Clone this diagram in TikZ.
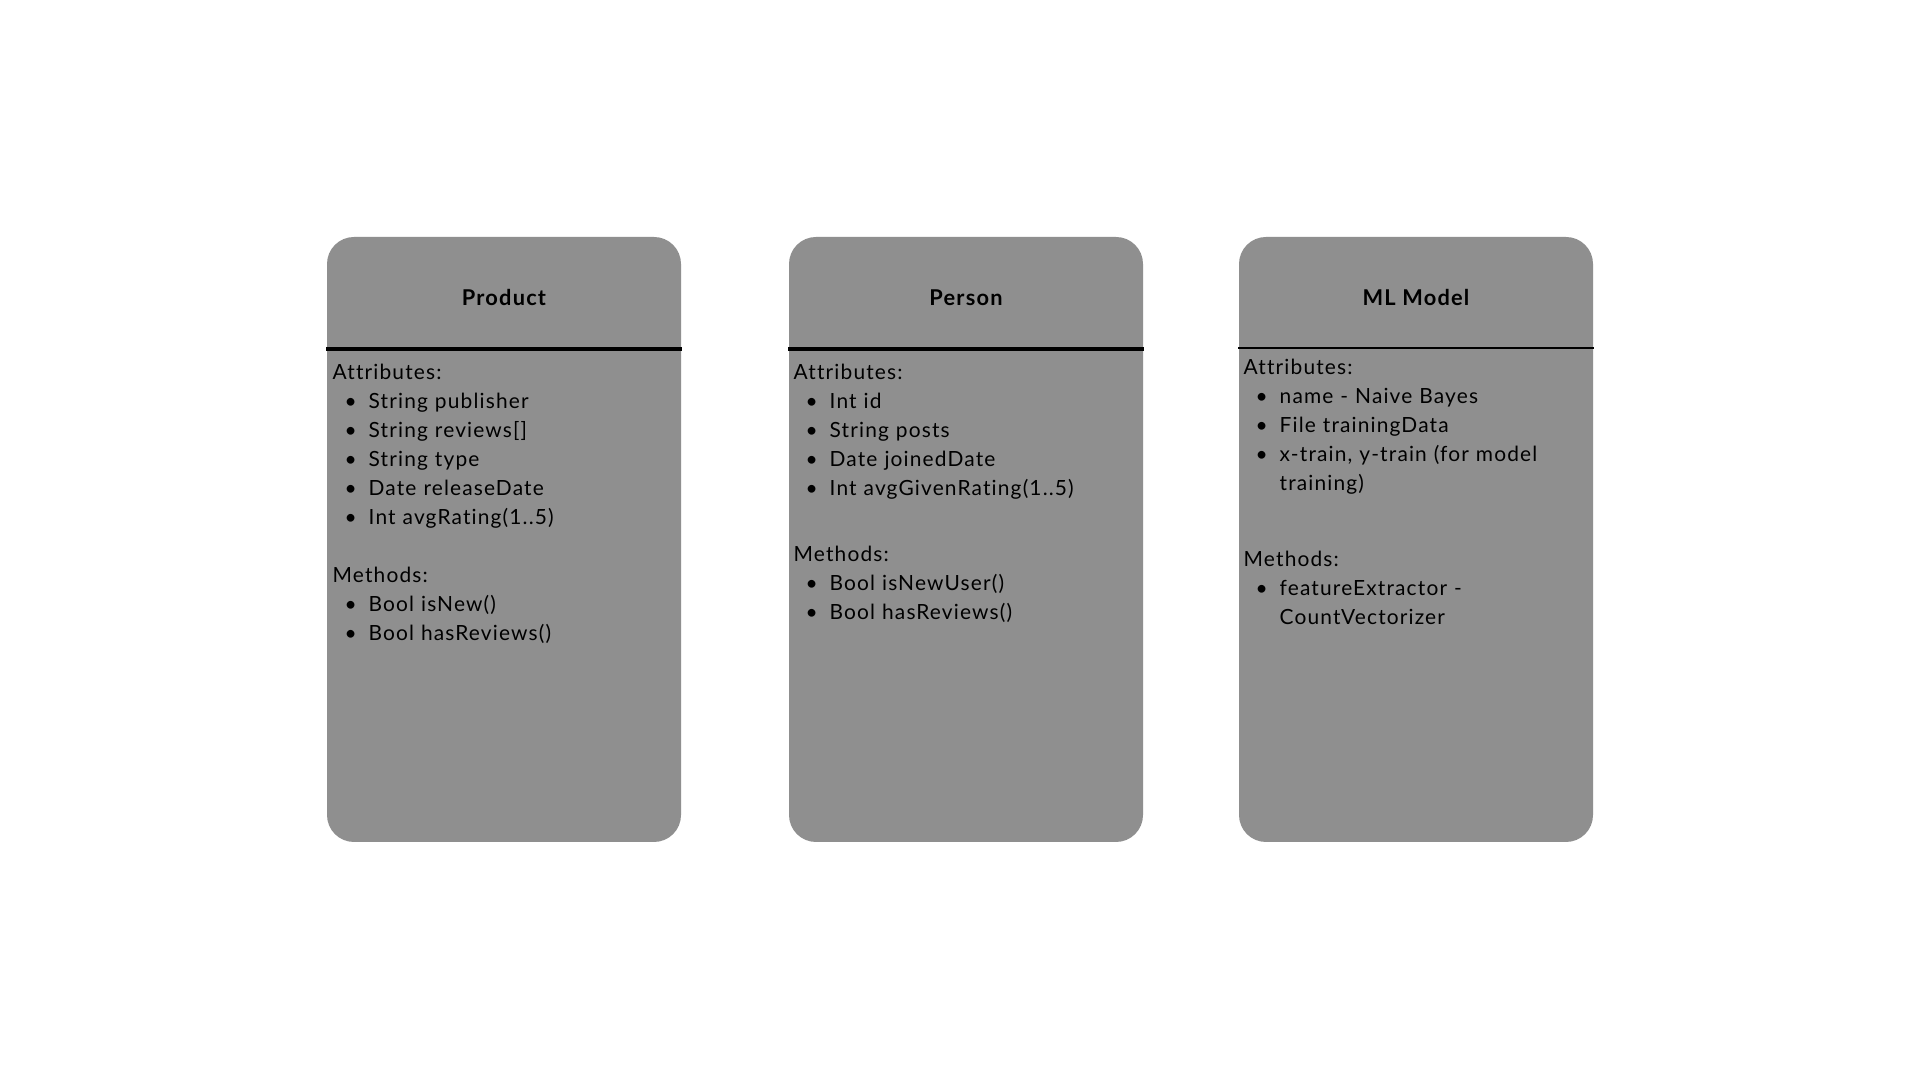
\documentclass[tikz,border=0pt]{standalone}
\usepackage{fontspec}
\setmainfont{Lato}[LetterSpace=5.5, Ligatures=NoCommon]
\usepackage{enumitem}
\usepackage{tikz}
\usetikzlibrary{positioning,calc}
\definecolor{ink}{HTML}{000000}
\definecolor{boxgray}{HTML}{8F8F8F}
\setlist[itemize]{nosep, leftmargin=0.36cm, labelsep=0.12cm, label=\textbullet}
\tikzset{
  classbox/.style={
    fill=boxgray,
    draw=none,
    rounded corners=0.27cm,
    minimum width=3.54cm,
    minimum height=6.05cm,
    inner sep=0pt
  },
  classtitle/.style={font=\fontsize{6.2pt}{7pt}\selectfont\bfseries, text=ink, anchor=base, inner sep=0pt},
  membertext/.style={
    font=\fontsize{5.95pt}{8.22pt}\selectfont,
    text=ink,
    text width=3.3cm,
    anchor=base west,
    inner sep=0pt
  },
  divider/.style={draw=ink, line width=1pt},
  thindivider/.style={draw=ink, line width=0.6pt}
}

\begin{document}
\begin{tikzpicture}
  \useasboundingbox[fill=white] (0,0) rectangle (19.2,10.8);

  \node[classbox] (product) at (5.04,5.405) {};
  \node[classbox] (person) at (9.66,5.405) {};
  \node[classbox] (mlmodel) at (14.16,5.405) {};

  \node[classtitle] (prodtitle) at (5.04,7.74) {Product};
  \node[classtitle] (perstitle) at (9.66,7.74) {Person};
  \node[classtitle] (mltitle) at (14.16,7.74) {ML Model};

  \draw[divider] (product.west |- 0,7.31) -- (product.east |- 0,7.31);
  \draw[divider] (person.west |- 0,7.31) -- (person.east |- 0,7.31);
  \draw[thindivider] (mlmodel.west |- 0,7.32) -- (mlmodel.east |- 0,7.32);

  \node[membertext] (prodattr) at (3.32,7.00) {Attributes:
    \begin{itemize}
      \item String publisher
      \item String reviews[]
      \item String type
      \item Date releaseDate
      \item Int avgRating(1..5)
    \end{itemize}};
  \node[membertext] (prodmeth) at (3.32,4.97) {Methods:
    \begin{itemize}
      \item Bool isNew()
      \item Bool hasReviews()
    \end{itemize}};

  \node[membertext] (persattr) at (7.93,7.00) {Attributes:
    \begin{itemize}
      \item Int id
      \item String posts
      \item Date joinedDate
      \item Int avgGivenRating(1..5)
    \end{itemize}};
  \node[membertext] (persmeth) at (7.93,5.18) {Methods:
    \begin{itemize}
      \item Bool isNewUser()
      \item Bool hasReviews()
    \end{itemize}};

  \node[membertext] (mlattr) at (12.43,7.05) {Attributes:
    \begin{itemize}
      \item name - Naive Bayes
      \item File trainingData
      \item x-train, y-train (for model\\ training)
    \end{itemize}};
  \node[membertext] (mlmeth) at (12.43,5.13) {Methods:
    \begin{itemize}
      \item featureExtractor -\\ CountVectorizer
    \end{itemize}};
\end{tikzpicture}
\end{document}
